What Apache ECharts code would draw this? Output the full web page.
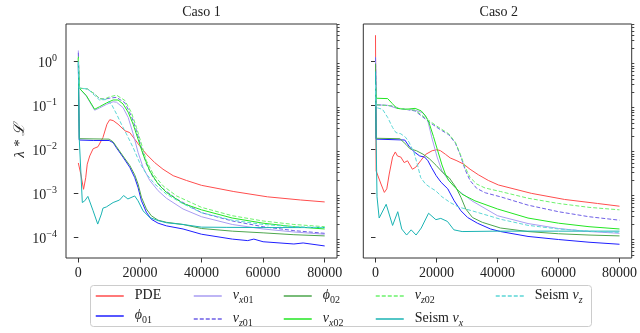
<!DOCTYPE html>
<html><head><meta charset="utf-8">
<script src="https://cdn.jsdelivr.net/npm/echarts@6/dist/echarts.min.js"></script>
<style>html,body{margin:0;padding:0;background:#fff}#c{width:640px;height:333px}</style>
</head><body><div id="c"></div>
<script>
// ---------- labels ----------
const panelTitles = ['Caso 1', 'Caso 2'];
const xTicks = [0, 20000, 40000, 60000, 80000];
const yTicks = [1e-4, 1e-3, 1e-2, 1e-1, 1];
const seriesNames = ['PDE', 'phi01', 'vx01', 'vz01', 'phi02', 'vx02', 'vz02', 'seismVx', 'seismVz'];
const legendLabels = {
  PDE: '{r|PDE}', phi01: '{i|ϕ}{s|01}', vx01: '{i|v}{si|x}{s|01}', vz01: '{i|v}{si|z}{s|01}',
  phi02: '{i|ϕ}{s|02}', vx02: '{i|v}{si|x}{s|02}', vz02: '{i|v}{si|z}{s|02}',
  seismVx: '{r|Seism }{i|v}{si|x}', seismVz: '{r|Seism }{i|v}{si|z}'
};
const legendColumns = [['PDE', 'phi01'], ['vx01', 'vz01'], ['phi02', 'vx02'], ['vz02', 'seismVx'], ['seismVz']];

// ---------- Caso 1 ----------
const c1_PDE = [[0,5.0e-3],[800,2.8e-3],[1700,1.26e-3],[2400,2.3e-3],[2900,4.7e-3],[3700,7.2e-3],[4800,1.05e-2],[6400,1.17e-2],[8000,1.9e-2],[9300,3.8e-2],[10200,4.8e-2],[11300,4.6e-2],[12900,3.8e-2],[15100,2.7e-2],[16700,2.45e-2],[18300,1.74e-2],[19900,1.23e-2],[22100,7.9e-3],[24800,5.1e-3],[27500,3.6e-3],[30800,2.57e-3],[35100,2.0e-3],[40000,1.55e-3],[50500,1.12e-3],[61400,8.5e-4],[72200,7.2e-4],[80000,6.5e-4]];
const c1_phi01 = [[0,0.9],[300,1.66e-2],[5000,1.62e-2],[10000,1.62e-2],[11300,1.45e-2],[12400,1.1e-2],[14500,6.8e-3],[16700,4.0e-3],[18300,2.34e-3],[19400,1.38e-3],[20500,6.9e-4],[22100,3.8e-4],[23700,2.63e-4],[25900,2.14e-4],[28600,1.86e-4],[34000,1.58e-4],[40000,1.2e-4],[50000,9.3e-5],[55000,8.6e-5],[57000,9.3e-5],[60000,8.1e-5],[70000,7.2e-5],[73000,7.6e-5],[80000,6.5e-5]];
const c1_vx01 = [[0,1.8],[300,0.251],[2600,0.166],[5300,7.9e-2],[6900,8.9e-2],[9100,0.107],[11300,0.123],[12400,0.12],[14500,9.1e-2],[16200,5.4e-2],[17800,2.3e-2],[19400,8.7e-3],[21000,4.0e-3],[23200,2.0e-3],[25900,1.17e-3],[28600,7.9e-4],[34000,4.5e-4],[40000,3.0e-4],[50000,2.0e-4],[60000,1.58e-4],[70000,1.35e-4],[80000,1.2e-4]];
const c1_vz01 = [[0,1.6],[300,0.251],[3000,0.240],[5000,0.191],[7000,0.145],[8500,0.141],[10000,0.148],[12400,0.155],[15100,0.117],[17200,5.9e-2],[18900,2.7e-2],[20500,1.1e-2],[22100,4.7e-3],[24300,2.34e-3],[27500,1.29e-3],[31900,7.6e-4],[40000,3.7e-4],[50000,2.4e-4],[60000,1.78e-4],[70000,1.45e-4],[80000,1.26e-4]];
const c1_phi02 = [[0,1.2],[300,1.78e-2],[10000,1.74e-2],[11300,1.51e-2],[12400,1.17e-2],[14500,7.2e-3],[16700,4.4e-3],[18300,2.7e-3],[19400,1.66e-3],[20500,8.3e-4],[22100,4.5e-4],[23700,3.16e-4],[25900,2.5e-4],[28600,2.24e-4],[34000,2.0e-4],[40000,1.62e-4],[50000,1.41e-4],[60000,1.29e-4],[70000,1.17e-4],[80000,1.1e-4]];
const c1_vx02 = [[0,1.3],[300,0.251],[2600,0.170],[5300,8.3e-2],[6900,9.5e-2],[9100,0.115],[11300,0.135],[12900,0.135],[14500,0.110],[16200,7.1e-2],[17800,3.8e-2],[19400,1.74e-2],[21000,7.9e-3],[23200,3.3e-3],[25900,1.66e-3],[28600,1.07e-3],[34000,6.0e-4],[40000,4.3e-4],[50000,2.8e-4],[60000,2.14e-4],[70000,1.78e-4],[80000,1.58e-4]];
const c1_vz02 = [[0,1.2],[300,0.251],[3000,0.240],[5000,0.191],[7000,0.145],[8500,0.141],[10000,0.158],[12400,0.174],[15100,0.132],[17200,7.1e-2],[18900,3.2e-2],[20500,1.35e-2],[22100,5.6e-3],[24300,2.8e-3],[27500,1.51e-3],[31900,8.9e-4],[40000,4.9e-4],[50000,3.16e-4],[60000,2.4e-4],[70000,2.0e-4],[80000,1.78e-4]];
const c1_seismVx = [[0,1.0],[300,1.8e-2],[1300,6.3e-4],[2100,6.9e-4],[3100,8.7e-4],[4800,4.1e-4],[6300,2.04e-4],[7500,3.47e-4],[8000,4.7e-4],[9100,5.0e-4],[11300,6.3e-4],[13400,7.2e-4],[14700,9.1e-4],[16100,7.6e-4],[18300,8.9e-4],[19400,6.9e-4],[21000,4.1e-4],[23200,2.88e-4],[25900,2.45e-4],[28600,2.19e-4],[34000,2.0e-4],[40000,1.74e-4],[48000,1.72e-4],[60000,1.7e-4],[80000,1.7e-4]];
const c1_seismVz = [[0,1.0],[300,0.251],[3100,0.240],[5300,0.170],[6900,0.135],[9100,0.138],[10700,0.110],[12400,6.5e-2],[14000,3.8e-2],[15600,2.3e-2],[17800,1.12e-2],[19900,5.1e-3],[22100,2.8e-3],[24800,1.66e-3],[28600,9.8e-4],[34000,5.9e-4],[40000,3.7e-4],[50000,2.5e-4],[60000,2.0e-4],[70000,1.78e-4],[80000,1.7e-4]];

// ---------- Caso 2 ----------
const c2_PDE = [[0,4.0],[200,3.3e-3],[1800,1.66e-3],[2900,1.07e-3],[3700,1.29e-3],[4500,2.8e-3],[5600,6.8e-3],[6500,8.9e-3],[7200,7.2e-3],[8300,6.8e-3],[9400,5.1e-3],[10500,5.6e-3],[12100,3.6e-3],[13200,4.0e-3],[14800,5.6e-3],[16400,7.8e-3],[18600,9.5e-3],[20200,1.0e-2],[21300,9.5e-3],[22900,7.9e-3],[24500,6.5e-3],[26700,5.6e-3],[28900,4.7e-3],[31000,3.6e-3],[33700,2.7e-3],[37000,2.0e-3],[40300,1.58e-3],[51100,1.02e-3],[62000,7.4e-4],[72800,6.0e-4],[80000,5.2e-4]];
const c2_phi01 = [[0,1.25],[200,1.74e-2],[9600,1.66e-2],[11300,1.12e-2],[12900,8.7e-3],[14500,7.2e-3],[16100,6.8e-3],[17200,5.6e-3],[18300,4.0e-3],[19900,2.57e-3],[21500,1.82e-3],[23700,1.29e-3],[25800,6.9e-4],[28000,4.1e-4],[30200,2.88e-4],[33400,2.14e-4],[37700,1.58e-4],[41000,1.38e-4],[50000,1.07e-4],[60000,9.1e-5],[70000,7.9e-5],[80000,7.1e-5]];
const c2_vx01 = [[0,1.25],[200,0.105],[4000,0.102],[7000,8.7e-2],[10000,8.3e-2],[13000,7.9e-2],[15500,6.9e-2],[17000,5.0e-2],[18600,1.74e-2],[20200,6.8e-3],[21800,3.3e-3],[24000,2.0e-3],[27200,1.17e-3],[31600,6.9e-4],[40000,3.16e-4],[50000,2.1e-4],[60000,1.62e-4],[70000,1.38e-4],[80000,1.26e-4]];
const c2_vz01 = [[0,1.25],[200,0.105],[5000,0.1],[8000,8.7e-2],[13000,7.6e-2],[17500,4.3e-2],[20800,3.0e-2],[24000,2.2e-2],[26200,1.41e-2],[27800,7.6e-3],[29400,3.5e-3],[31000,2.0e-3],[33200,1.32e-3],[36000,1.05e-3],[41000,8.5e-4],[50000,5.5e-4],[60000,3.9e-4],[70000,3.0e-4],[80000,2.5e-4]];
const c2_phi02 = [[0,0.9],[200,1.82e-2],[8000,1.78e-2],[10000,1.32e-2],[11300,1.05e-2],[13400,9.5e-3],[15600,7.9e-3],[17700,6.2e-3],[19900,4.4e-3],[22100,3.0e-3],[24200,2.29e-3],[26400,1.38e-3],[28000,8.3e-4],[29600,4.5e-4],[31800,2.88e-4],[35000,2.24e-4],[41000,1.66e-4],[50000,1.38e-4],[60000,1.23e-4],[70000,1.15e-4],[80000,1.1e-4]];
const c2_vx02 = [[0,0.3],[200,0.148],[4000,0.145],[5500,0.112],[7000,8.7e-2],[10000,8.3e-2],[13000,8.7e-2],[15000,7.6e-2],[16400,5.9e-2],[17500,4.2e-2],[19000,2.0e-2],[20300,1.0e-2],[21800,4.5e-3],[22900,2.8e-3],[24000,2.0e-3],[25600,1.51e-3],[28300,9.8e-4],[32600,6.9e-4],[40000,4.5e-4],[50000,2.8e-4],[60000,2.14e-4],[70000,1.78e-4],[80000,1.58e-4]];
const c2_vz02 = [[0,0.5],[200,0.105],[5000,0.1],[8000,8.7e-2],[13000,7.9e-2],[17500,4.6e-2],[20800,3.2e-2],[24000,2.3e-2],[26200,1.48e-2],[27800,7.9e-3],[29400,4.0e-3],[31000,2.34e-3],[33200,1.66e-3],[35900,1.35e-3],[41000,1.12e-3],[50000,7.9e-4],[60000,6.0e-4],[70000,4.9e-4],[80000,4.3e-4]];
const c2_seismVx = [[0,0.6],[200,1.8e-2],[500,8.5e-4],[1200,2.8e-4],[3500,5.75e-4],[5600,1.9e-4],[7300,3.9e-4],[8600,1.58e-4],[10200,1.15e-4],[11700,1.51e-4],[13300,1.15e-4],[15000,1.66e-4],[17400,3.6e-4],[19800,2.57e-4],[21400,2.75e-4],[23600,2.34e-4],[25700,1.51e-4],[28400,1.38e-4],[40000,1.41e-4],[60000,1.41e-4],[80000,1.41e-4]];
const c2_seismVz = [[0,0.3],[200,9.1e-2],[2300,8.3e-2],[4000,5.4e-2],[5600,3.2e-2],[6700,2.45e-2],[8300,2.3e-2],[9900,1.9e-2],[11000,1.48e-2],[12600,8.7e-3],[13700,4.7e-3],[14800,2.34e-3],[16400,1.66e-3],[18000,1.38e-3],[19700,1.17e-3],[21800,8.5e-4],[24500,6.3e-4],[27200,5.0e-4],[31600,4.1e-4],[41000,2.63e-4],[50000,1.91e-4],[60000,1.58e-4],[70000,1.41e-4],[80000,1.32e-4]];

const panelData = [
  {PDE:c1_PDE, phi01:c1_phi01, vx01:c1_vx01, vz01:c1_vz01, phi02:c1_phi02, vx02:c1_vx02, vz02:c1_vz02, seismVx:c1_seismVx, seismVz:c1_seismVz},
  {PDE:c2_PDE, phi01:c2_phi01, vx01:c2_vx01, vz01:c2_vz01, phi02:c2_phi02, vx02:c2_vx02, vz02:c2_vz02, seismVx:c2_seismVx, seismVz:c2_seismVz}
];

// ---------- styles ----------
const styles = {
  PDE:{color:'#ff4d4d', type:'solid'}, phi01:{color:'#1f1fff', type:'solid'},
  vx01:{color:'#a99cf2', type:'solid'}, vz01:{color:'#6e5fe6', type:[4,2]},
  phi02:{color:'#4da64d', type:'solid'}, vx02:{color:'#22e622', type:'solid'},
  vz02:{color:'#6cf26c', type:[4,2]}, seismVx:{color:'#1ab3b3', type:'solid'},
  seismVz:{color:'#5cd6d6', type:[4,2]}
};
const SERIF = '"Liberation Serif", "DejaVu Serif", serif';
const yMin = Math.pow(10, -4.461), yMax = Math.pow(10, 0.857);
const minorTicks = [];
for (let k = -5; k <= 0; k++) for (let m = 2; m <= 9; m++) { const v = m * Math.pow(10, k); if (v > yMin && v < yMax) minorTicks.push(v); }
const grids = [
  {left:66, top:24, width:271, height:234},
  {left:363.3, top:24, width:271, height:234}
];
const supFmt = v => { const e = Math.round(Math.log10(v)); return '{b|10}{p|' + (e < 0 ? '\u2212' + (-e) : e) + '}'; };

const option = {
  animation:false,
  grid: grids.map(g => Object.assign({show:true, borderColor:'#333', borderWidth:1, backgroundColor:'transparent'}, g)),
  xAxis: [0,1].map(i => ({
    type:'value', gridIndex:i, min:-4000, max:84000,
    splitLine:{show:false}, axisLine:{show:false},
    axisTick:{show:true, length:4.5, lineStyle:{color:'#333'}, customValues:xTicks},
    axisLabel:{customValues:xTicks, fontFamily:SERIF, fontSize:14, color:'#222', margin:8, formatter: v => String(Math.round(v))}
  })),
  yAxis: [0,1].map(i => ({
    type:'log', logBase:10, gridIndex:i, min:yMin, max:yMax,
    splitLine:{show:false}, axisLine:{show:false},
    axisTick:{show:true, length:4.5, lineStyle:{color:'#333'}, customValues:yTicks},
    axisLabel:{show:i===0, customValues:yTicks, margin:9, formatter:supFmt,
      rich:{b:{fontFamily:SERIF, fontSize:14, color:'#222', lineHeight:17, verticalAlign:'bottom'},
            p:{fontFamily:SERIF, fontSize:10, color:'#222', lineHeight:10, verticalAlign:'top'}}}
  })).concat([0,1].map(i => ({
    type:'log', logBase:10, gridIndex:i, min:yMin, max:yMax,
    splitLine:{show:false}, axisLine:{show:false}, axisLabel:{show:false},
    axisTick:{show:true, length:2.6, lineStyle:{color:'#444'}, customValues:minorTicks}
  }))),
  legend: legendColumns.map((col, j) => ({
    data: col, orient:'vertical', left:[95,193,283,375,495][j], top:288,
    itemWidth:28, itemHeight:14, itemGap:6, padding:0, selectedMode:false,
    itemStyle:{opacity:0, color:'rgba(0,0,0,0)', borderWidth:0},
    lineStyle:{width:1.5},
    formatter: n => legendLabels[n],
    textStyle:{padding:[0,0,0,6], rich:{
      r:{fontFamily:SERIF, fontSize:14, color:'#222', lineHeight:16, verticalAlign:'top'},
      i:{fontFamily:SERIF, fontSize:14, fontStyle:'italic', color:'#222', lineHeight:16, verticalAlign:'top'},
      s:{fontFamily:SERIF, fontSize:10, color:'#222', lineHeight:10, padding:[7,0,0,0], verticalAlign:'top'},
      si:{fontFamily:SERIF, fontSize:10, fontStyle:'italic', color:'#222', lineHeight:10, padding:[7,0,0,0], verticalAlign:'top'}
    }}
  })),
  graphic: [
    {type:'rect', z:0, shape:{x:90.5, y:285.5, width:501, height:41, r:3}, style:{fill:'#fff', stroke:'#cccccc', lineWidth:1}},
    {type:'text', x:201.5, y:12.5, style:{text:panelTitles[0], font:'14px ' + SERIF, fill:'#222', textAlign:'center', textVerticalAlign:'middle'}},
    {type:'text', x:498.8, y:12.5, style:{text:panelTitles[1], font:'14px ' + SERIF, fill:'#222', textAlign:'center', textVerticalAlign:'middle'}},
    {type:'text', x:20, y:141, rotation:Math.PI/2, style:{text:'\u03bb * \u2112', font:'italic 15px ' + SERIF, fill:'#222', textAlign:'center', textVerticalAlign:'middle'}}
  ],
  series: []
};
[0,1].forEach(p => {
  seriesNames.forEach(n => {
    option.series.push({
      type:'line', name:n, xAxisIndex:p, yAxisIndex:p, data:panelData[p][n],
      symbol:'none', showSymbol:false, silent:true, clip:true,
      lineStyle:{color:styles[n].color, width:1, type:styles[n].type},
      itemStyle:{color:styles[n].color}
    });
  });
});
const chart = echarts.init(document.getElementById('c'), null, {renderer:'canvas'});
chart.setOption(option);
</script></body></html>
